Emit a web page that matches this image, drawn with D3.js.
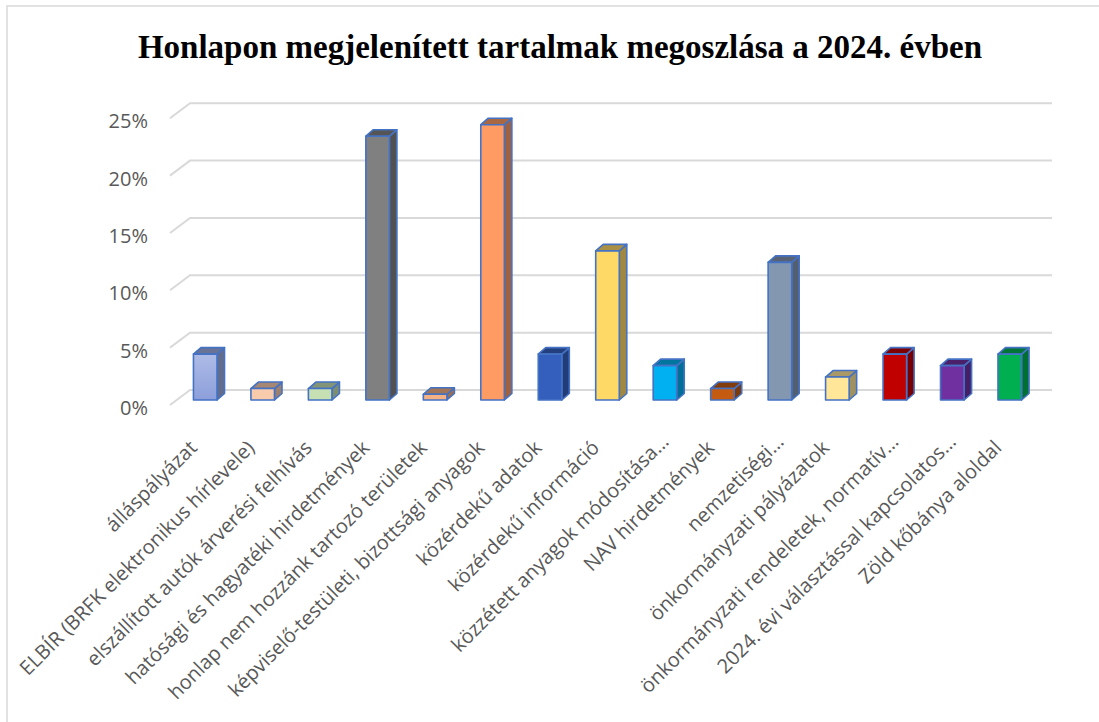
<!DOCTYPE html>
<html lang="hu">
	<head>
		<meta charset="UTF-8" />
		<title>Honlapon megjelenített tartalmak megoszlása a 2024. évben</title>
		<script src="https://d3js.org/d3.v7.min.js"></script>
		<style>
			html,
			body {
				margin: 0;
				background: #fff;
			}
			svg {
				display: block;
			}
			.title {
				font: bold 33px 'Liberation Serif', 'Times New Roman', serif;
				fill: #000;
			}
			.ylabel,
			.xlabel {
				font-family: 'Open Sans', sans-serif;
				fill: #595959;
			}
			.ylabel {
				font-size: 20px;
			}
			.xlabel {
				font-size: 20px;
			}
			.grid {
				stroke: #d9d9d9;
				stroke-width: 2px;
				fill: none;
			}
		</style>
	</head>
	<body>
		<svg id="chart" width="1099" height="722"></svg>
		<script>
			const categories = [
				'álláspályázat',
				'ELBÍR (BRFK elektronikus hírlevele)',
				'elszállított autók árverési felhívás',
				'hatósági és hagyatéki hirdetmények',
				'honlap nem hozzánk tartozó területek',
				'képviselő-testületi, bizottsági anyagok',
				'közérdekű adatok',
				'közérdekű információ',
				'közzétett anyagok módosítása…',
				'NAV hirdetmények',
				'nemzetiségi…',
				'önkormányzati pályázatok',
				'önkormányzati rendeletek, normatív…',
				'2024. évi választással kapcsolatos…',
				'Zöld kőbánya aloldal',
			];
			// share of published content, percent
			const values = [4, 1, 1, 23, 0.5, 24, 4, 13, 3, 1, 12, 2, 4, 3, 4];
			const colors = [
				'#9cade1',
				'#f8cbad',
				'#c6e0b4',
				'#808080',
				'#f4b183',
				'#ff9b63',
				'#355fbd',
				'#ffd966',
				'#00b0f0',
				'#c55a11',
				'#8497b0',
				'#ffe699',
				'#c00000',
				'#7030a0',
				'#00b050',
			];
			const yTicks = [0, 5, 10, 15, 20, 25];

			const svg = d3.select('#chart');
			const W = 1099;

			// chart frame
			svg
				.append('rect')
				.attr('x', 7)
				.attr('y', 6)
				.attr('width', W + 20)
				.attr('height', 740)
				.attr('fill', '#fff')
				.attr('stroke', '#d9d9d9')
				.attr('stroke-width', 1.5);

			svg
				.append('text')
				.attr('class', 'title')
				.attr('x', 560)
				.attr('y', 58)
				.attr('text-anchor', 'middle')
				.text('Honlapon megjelenített tartalmak megoszlása a 2024. évben');

			// 3d floor depth vector, front plane of the plot
			const depth = { dx: 20, dy: -15 };
			const left = 170;
			const right = 1032;
			const base = 405;

			const x = d3.scaleBand().domain(categories).range([left, right]);
			const y = d3
				.scaleLinear()
				.domain([0, 25])
				.range([base, base - 5 * 57.35]);

			// gridlines: side wall diagonal + back wall
			const grid = svg.append('g');
			yTicks.forEach((t) => {
				const yy = y(t);
				grid
					.append('path')
					.attr('class', 'grid')
					.attr(
						'd',
						d3.line()([
							[left, yy],
							[left + depth.dx, yy + depth.dy],
							[right + depth.dx, yy + depth.dy],
						]),
					);
			});

			svg
				.append('g')
				.selectAll('text')
				.data(yTicks)
				.enter()
				.append('text')
				.attr('class', 'ylabel')
				.attr('x', 148)
				.attr('y', (d) => y(d) + 3)
				.attr('dy', '0.35em')
				.attr('text-anchor', 'end')
				.text((d) => d + '%');

			// bars sit in the middle third of the floor depth
			const off = { dx: 6.5, dy: -5 };
			const bd = { dx: 7.5, dy: -6.5 };
			const bw = x.bandwidth() * 0.41;

			const defs = svg.append('defs');
			const grad = defs
				.append('linearGradient')
				.attr('id', 'g0')
				.attr('x1', 0)
				.attr('y1', 0)
				.attr('x2', 0)
				.attr('y2', 1);
			grad.append('stop').attr('offset', '0%').attr('stop-color', '#aebbe6');
			grad.append('stop').attr('offset', '100%').attr('stop-color', '#8c9fdb');

			const bars = svg
				.append('g')
				.selectAll('g')
				.data(categories)
				.enter()
				.append('g')
				.attr('stroke', '#4472c4')
				.attr('stroke-width', 1.6)
				.attr('stroke-linejoin', 'round');

			bars.each(function (c, i) {
				const g = d3.select(this);
				const x0 = x(c) + (x.bandwidth() - bw) / 2 + off.dx;
				const x1 = x0 + bw;
				const y0 = y(0) + off.dy;
				const y1 = y(values[i]) + off.dy;
				const col = d3.color(colors[i]);

				// side
				g.append('path')
					.attr('fill', col.darker(1.3))
					.attr(
						'd',
						d3.line()([
							[x1, y0],
							[x1 + bd.dx, y0 + bd.dy],
							[x1 + bd.dx, y1 + bd.dy],
							[x1, y1],
						]) + 'Z',
					);
				// top
				g.append('path')
					.attr('fill', col.darker(1.15))
					.attr(
						'd',
						d3.line()([
							[x0, y1],
							[x0 + bd.dx, y1 + bd.dy],
							[x1 + bd.dx, y1 + bd.dy],
							[x1, y1],
						]) + 'Z',
					);
				// front
				g.append('rect')
					.attr('x', x0)
					.attr('y', y1)
					.attr('width', bw)
					.attr('height', y0 - y1)
					.attr('fill', i === 0 ? 'url(#g0)' : col);
			});

			svg
				.append('g')
				.selectAll('text')
				.data(categories)
				.enter()
				.append('text')
				.attr('class', 'xlabel')
				.attr('text-anchor', 'end')
				.attr('transform', (d) => {
					// truncated labels sit a little further along in the original
					const cut = d.endsWith('…');
					const cx = x(d) + x.bandwidth() / 2 + off.dx - 7 + (cut ? 12 : 0);
					const cy = base + 44 - (cut ? 6 : 0);
					return `translate(${cx},${cy}) rotate(-45)`;
				})
				.text((d) => d);
		</script>
	</body>
</html>
